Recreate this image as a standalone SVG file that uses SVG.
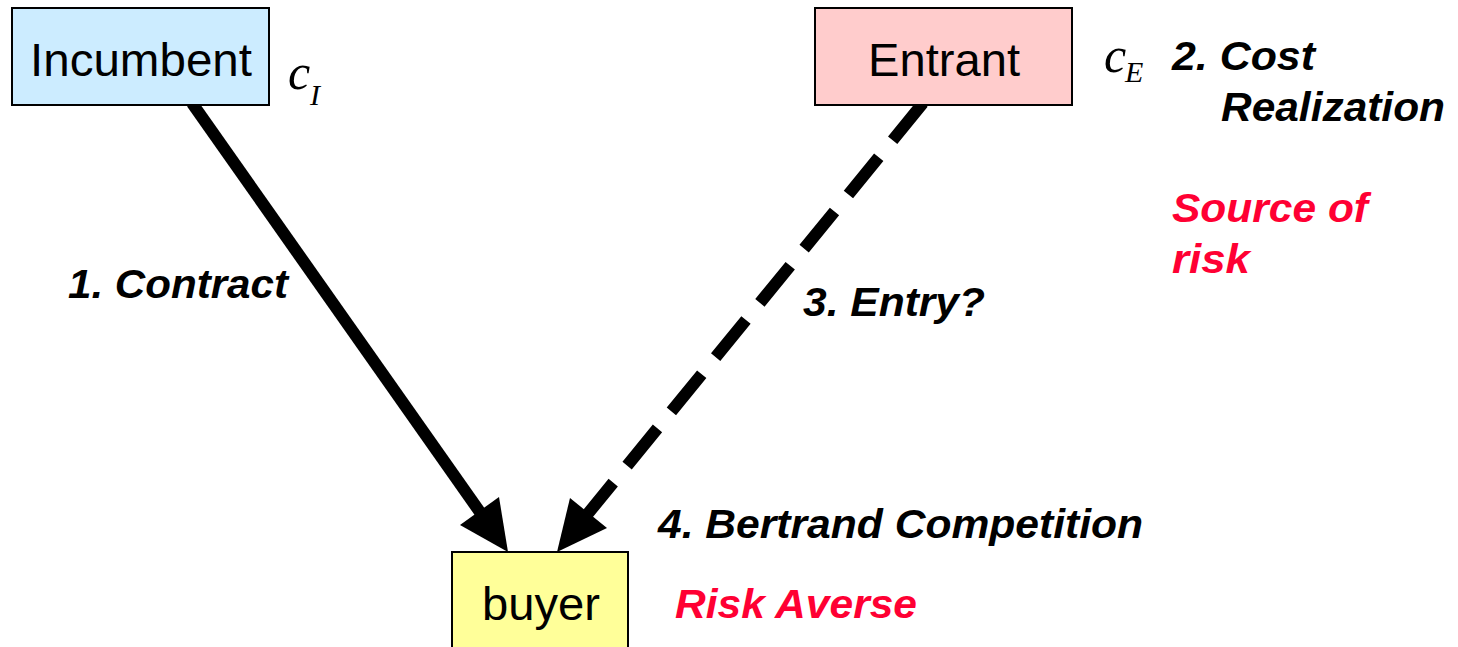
<svg xmlns="http://www.w3.org/2000/svg" width="1458" height="647" viewBox="0 0 1458 647">
<style>
.box{stroke:#000;stroke-width:2}
.lbl{font-family:"Liberation Sans",Arial,sans-serif;font-size:46px;fill:#000}
.step{font-family:"Liberation Sans",Arial,sans-serif;font-size:41px;font-weight:bold;font-style:italic;fill:#000}
.red{fill:#FF0033}
.math{font-family:"Liberation Serif","Times New Roman",serif;font-style:italic;fill:#000}
.shaft{stroke:#000;stroke-width:12;fill:none}
</style>
<rect width="1458" height="647" fill="#fff"/>
<g id="connectors">
<line class="shaft" x1="192" y1="103" x2="482" y2="515"/>
<polygon points="508,552 499,497 460,525"/>
<line class="shaft" x1="923" y1="103" x2="586" y2="516" stroke-dasharray="48 22"/>
<polygon points="557,552 570,498 607,528"/>
</g>
<g id="incumbent">
<rect class="box" x="12" y="8" width="257" height="97" fill="#CCECFF"/>
<text class="lbl" x="141" y="76" text-anchor="middle" textLength="222" lengthAdjust="spacingAndGlyphs">Incumbent</text>
<text class="math" x="288" y="89" font-size="50">c</text>
<text class="math" x="310" y="105" font-size="30">I</text>
</g>
<g id="entrant">
<rect class="box" x="815" y="8" width="257" height="97" fill="#FFCCCC"/>
<text class="lbl" x="944" y="76" text-anchor="middle" textLength="152" lengthAdjust="spacingAndGlyphs">Entrant</text>
<text class="math" x="1104" y="72" font-size="50">c</text>
<text class="math" x="1125" y="82" font-size="30">E</text>
<text class="step" x="1172" y="70" textLength="143" lengthAdjust="spacingAndGlyphs">2. Cost</text>
<text class="step" x="1221" y="121" textLength="224" lengthAdjust="spacingAndGlyphs">Realization</text>
<text class="step red" x="1172" y="222" textLength="196" lengthAdjust="spacingAndGlyphs">Source of</text>
<text class="step red" x="1172" y="273" textLength="78" lengthAdjust="spacingAndGlyphs">risk</text>
</g>
<g id="buyer">
<rect class="box" x="452" y="552" width="176" height="110" fill="#FFFF99"/>
<text class="lbl" x="541" y="620" text-anchor="middle" textLength="118" lengthAdjust="spacingAndGlyphs">buyer</text>
<text class="step red" x="675" y="618" textLength="242" lengthAdjust="spacingAndGlyphs">Risk Averse</text>
</g>
<g id="labels">
<text class="step" x="68" y="298" textLength="220" lengthAdjust="spacingAndGlyphs">1. Contract</text>
<text class="step" x="803" y="316" textLength="182" lengthAdjust="spacingAndGlyphs">3. Entry?</text>
<text class="step" x="658" y="538" textLength="485" lengthAdjust="spacingAndGlyphs">4. Bertrand Competition</text>
</g>
</svg>
